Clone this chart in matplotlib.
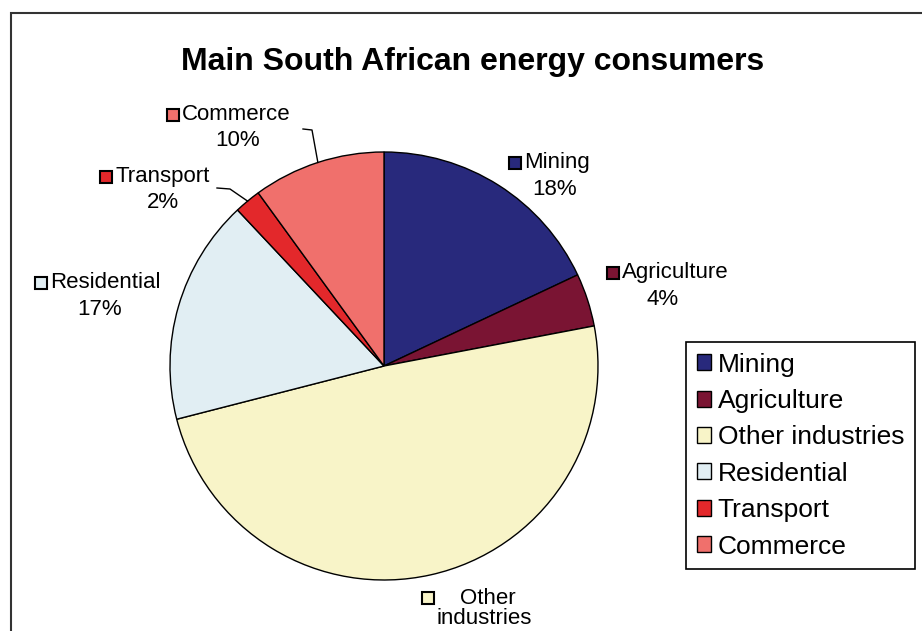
import matplotlib.pyplot as plt
from matplotlib.patches import Rectangle
import numpy as np

plt.rcParams['font.family'] = ['Liberation Sans', 'DejaVu Sans']

sectors = ['Mining', 'Agriculture', 'Other industries', 'Residential', 'Transport', 'Commerce']
shares = [18, 4, 49, 17, 2, 10]
colors = ['#28297c', '#7a1433', '#f8f4c8', '#e1eef3', '#e3282b', '#f0706c']
name_lines = ['Mining', 'Agriculture', 'Other', 'Residential', 'Transport', 'Commerce']
# the "49%" of Other industries falls below the visible area in the reference
sub_lines = ['18%', '4%', 'industries', '17%', '2%', '10%']

# label layout in reference pixels: name left/y, second line centre x/y, gap to square
name_pos = [(524, 163), (622, 273), (460, 598), (50, 283), (115, 177), (182, 115)]
sub_pos = [(555, 190), (663, 300), (484, 619), (100, 310), (163, 203), (238, 141)]
sq_gap = [9, 9, 32, 9, 9, 9]
# leader line elbows (only for the small top-left slices)
leaders = {4: [(217, 188), (230, 189)], 5: [(303, 129), (312, 130)]}

cx, cy, r = 384, 366, 214


def px(x, y):
    return (x - cx) / r, (cy - y) / r


W, H = 922, 631
fig = plt.figure(figsize=(W / 100, H / 100), dpi=100)
fig.patches.append(Rectangle((11 / W, -0.05), 1.0, 1 - 13 / H + 0.05, transform=fig.transFigure,
                             fill=False, edgecolor='#333333', linewidth=1.5))

ax = fig.add_axes([(cx - r) / W, (H - cy - r) / H, 2 * r / W, 2 * r / H])
wedges, _ = ax.pie(shares, colors=colors, startangle=90, counterclock=False, radius=1,
                   wedgeprops=dict(edgecolor='black', linewidth=1))
ax.set_xlim(-1, 1)
ax.set_ylim(-1, 1)
ax.set_aspect('equal')
ax.axis('off')

fs = 16
for i in range(len(sectors)):
    nx, ny = px(*name_pos[i])
    ax.text(nx, ny, name_lines[i], ha='left', va='center', fontsize=fs, clip_on=False)
    sx, sy = px(*sub_pos[i])
    ax.text(sx, sy, sub_lines[i], ha='center', va='center', fontsize=fs, clip_on=False)
    ax.plot(nx - sq_gap[i] / r, ny, marker='s', markersize=8, markerfacecolor=colors[i],
            markeredgecolor='black', markeredgewidth=1.5, clip_on=False)

for i, pts in leaders.items():
    w = wedges[i]
    mid = np.deg2rad((w.theta1 + w.theta2) / 2)
    xs = [px(*p)[0] for p in pts] + [np.cos(mid)]
    ys = [px(*p)[1] for p in pts] + [np.sin(mid)]
    ax.plot(xs, ys, color='black', linewidth=1, clip_on=False)

fig.text(473 / W, 1 - 62 / H, 'Main South African energy consumers', ha='center', va='center',
         fontsize=23, fontweight='bold')

leg = fig.legend(wedges, sectors, loc='upper left', bbox_to_anchor=(686 / W, 1 - 342 / H),
                 bbox_transform=fig.transFigure, fontsize=19, frameon=True, fancybox=False,
                 edgecolor='black', framealpha=1, handlelength=0.55, handleheight=0.55,
                 handletextpad=0.25, labelspacing=0.47, borderpad=0.4, borderaxespad=0)
leg.get_frame().set_linewidth(1.2)

fig.savefig('out.png', dpi=100)
